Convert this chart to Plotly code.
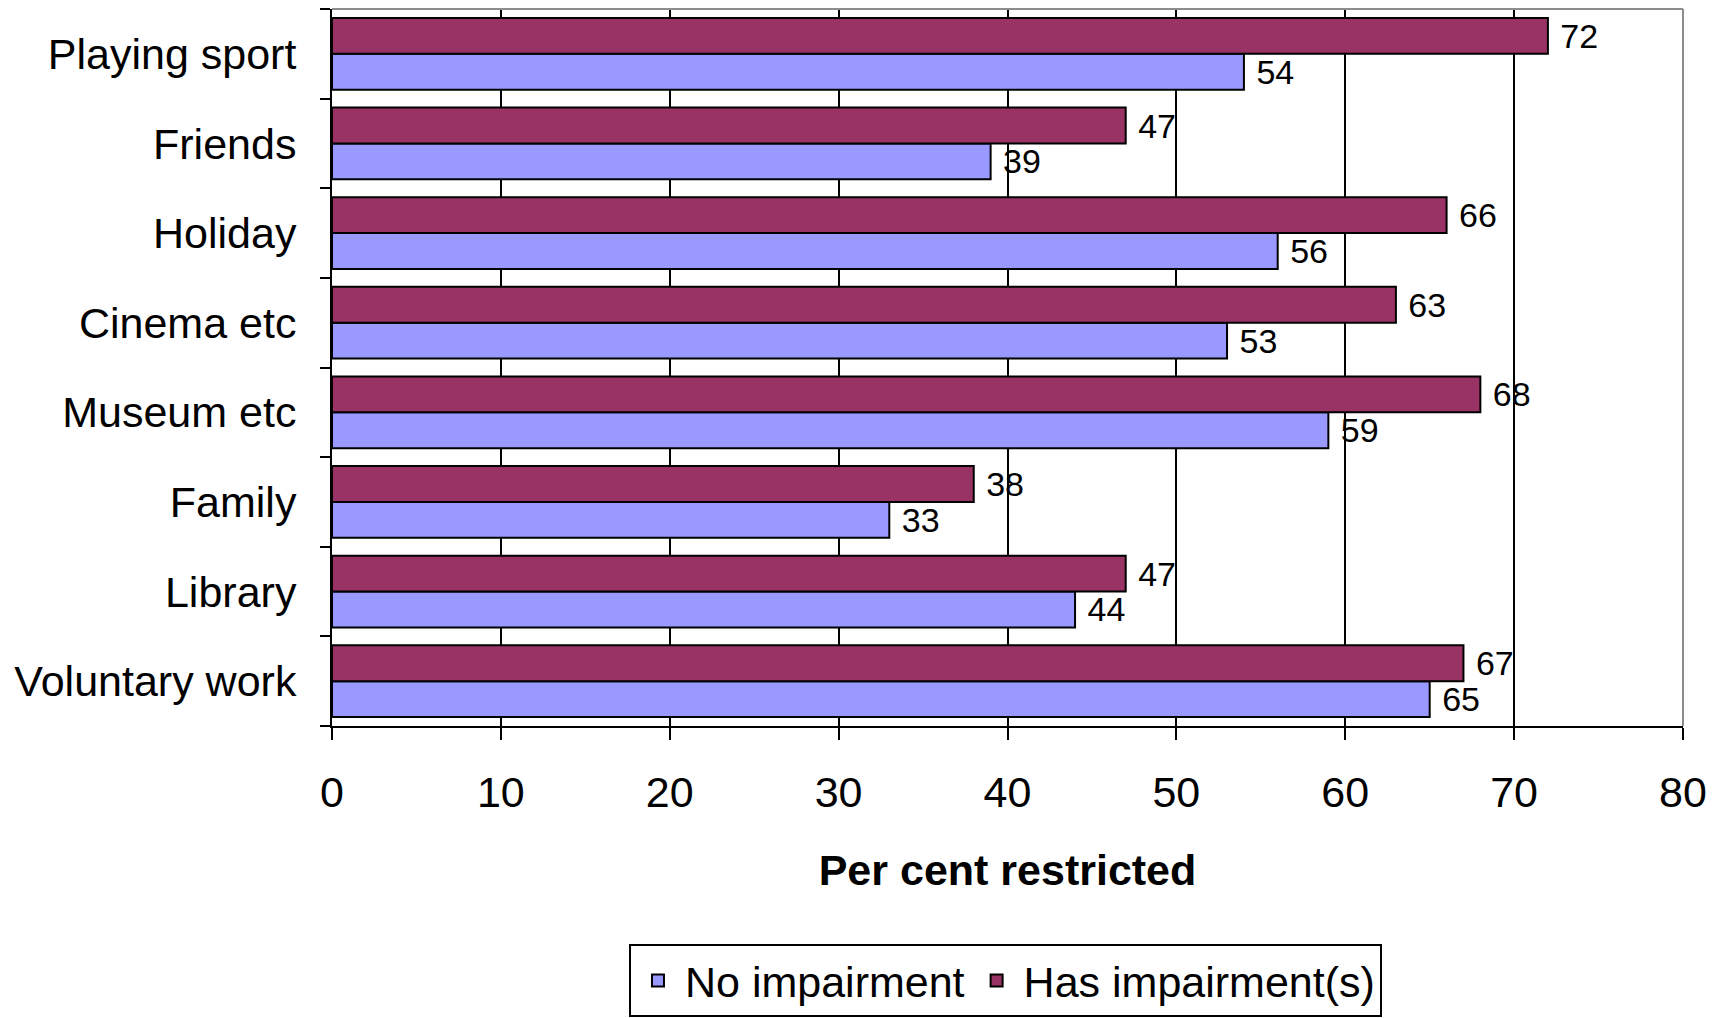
import plotly.graph_objects as go

# Activities, listed bottom-to-top so "Playing sport" sits at the top of the axis
activities = ["Voluntary work", "Library", "Family", "Museum etc",
              "Cinema etc", "Holiday", "Friends", "Playing sport"]
no_impairment = [65, 44, 33, 59, 53, 56, 39, 54]
has_impairment = [67, 47, 38, 68, 63, 66, 47, 72]
x_ticks = [0, 10, 20, 30, 40, 50, 60, 70, 80]

FONT = "Liberation Sans, Arial, sans-serif"
BLUE = "#9999FF"
PLUM = "#993366"

fig = go.Figure()
for name, values, colour in [("No impairment", no_impairment, BLUE),
                             ("Has impairment(s)", has_impairment, PLUM)]:
    fig.add_trace(go.Bar(
        name=name,
        y=activities,
        x=values,
        orientation="h",
        marker=dict(color=colour, line=dict(color="black", width=2)),
        text=[str(v) for v in values],
        texttemplate="\u00a0%{text}",
        textposition="outside",
        constraintext="none",
        cliponaxis=False,
        textfont=dict(family=FONT, size=34, color="black"),
    ))

fig.update_layout(
    width=1712, height=1018,
    margin=dict(l=332, r=29, t=9, b=292),
    paper_bgcolor="white", plot_bgcolor="white",
    barmode="group", bargap=0.2, bargroupgap=0,
    font=dict(family=FONT, size=43, color="black"),
    showlegend=True,
    legend=dict(
        orientation="h", xref="paper", x=0.4985, xanchor="center",
        yref="container", y=1 - 944 / 1018, yanchor="top",
        bordercolor="black", borderwidth=2, bgcolor="white",
        itemwidth=44,
        font=dict(family=FONT, size=43, color="black"),
        traceorder="normal",
    ),
    xaxis=dict(
        range=[0, 80], tickvals=x_ticks, ticktext=[str(t) for t in x_ticks],
        ticks="outside", ticklen=12, tickwidth=2, tickcolor="black",
        ticklabelstandoff=15, automargin=False,
        showline=True, linewidth=2, linecolor="black",
        showgrid=True, gridcolor="black", gridwidth=2, zeroline=False,
        tickfont=dict(family=FONT, size=43, color="black"),
        title=dict(text="<b>Per cent restricted</b>", standoff=40,
                   font=dict(family=FONT, size=43, color="black")),
    ),
    yaxis=dict(
        type="category", categoryorder="array", categoryarray=activities,
        tickson="boundaries", ticks="outside", ticklen=10, tickwidth=2,
        tickcolor="black", ticklabelstandoff=25, automargin=False,
        showline=True, linewidth=2, linecolor="black",
        showgrid=False, zeroline=False,
        tickfont=dict(family=FONT, size=43, color="black"),
    ),
    shapes=[
        # grey frame along the top and right of the plotting area
        dict(type="line", xref="paper", yref="paper", x0=0, x1=1, y0=1, y1=1,
             line=dict(color="#8c8c8c", width=2), layer="above"),
        dict(type="line", xref="paper", yref="paper", x0=1, x1=1, y0=0, y1=1,
             line=dict(color="#8c8c8c", width=2), layer="above"),
    ],
)

fig.write_html("out.html")
